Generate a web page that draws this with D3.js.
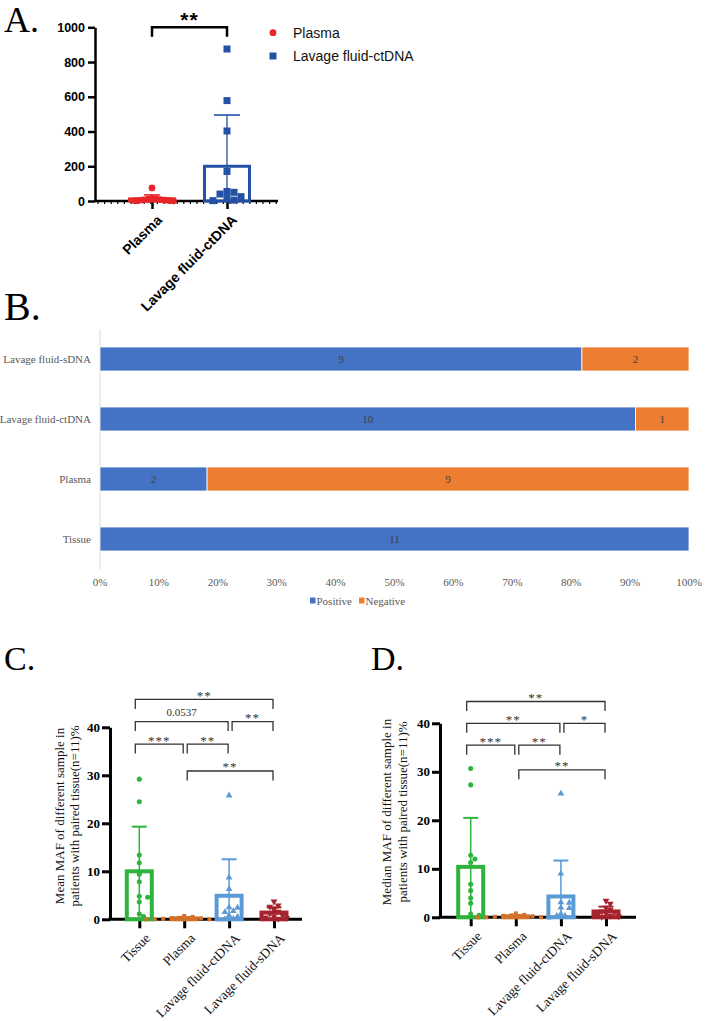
<!DOCTYPE html>
<html><head><meta charset="utf-8">
<script src="https://cdn.jsdelivr.net/npm/d3@7"></script>
<style>body{margin:0;background:#fff} svg{display:block}</style>
</head><body><svg id="fig" width="707" height="1021"></svg>
<script>
// ---------------- DATA ----------------
// Panel A
const catsA = ["Plasma", "Lavage fluid-ctDNA"];
const plasmaA = [75, 15, 12, 10, 8, 6, 5, 4, 3, 2, 1];
const lavageA = [875, 578, 403, 170, 55, 50, 40, 25, 15, 5, 2];
const meanA = [12, 200];
const sdA = [23, 295];
const ticksA = [0, 200, 400, 600, 800, 1000];
const sigA = "**";

// Panel B
const catsB = ["Lavage fluid-sDNA", "Lavage fluid-ctDNA", "Plasma", "Tissue"];
const positiveB = [9, 10, 2, 11];
const negativeB = [2, 1, 9, 0];
const ticksB = [0, 0.1, 0.2, 0.3, 0.4, 0.5, 0.6, 0.7, 0.8, 0.9, 1.0];
const seriesB = ["Positive", "Negative"];

// Panels C / D
const catsCD = ["Tissue", "Plasma", "Lavage fluid-ctDNA", "Lavage fluid-sDNA"];
const ticksCD = [0, 10, 20, 30, 40];
const tissueC = [29.2, 24.5, 13.4, 11.8, 9.4, 7.8, 4.8, 4.6, 3.6, 1.1, 0.6];
const plasmaC = [0.7, 0.5, 0.3, 0.2, 0.2, 0.1, 0.1, 0.0, 0.0, 0.0, 0.0];
const ctdnaC = [25.8, 8.7, 6.3, 2.5, 2.4, 1.7, 1.5, 0.8, 0.5, 0.1, 0.0];
const sdnaC = [3.7, 2.9, 2.6, 2.0, 1.6, 1.2, 0.9, 0.6, 0.4, 0.3, 0.1];
const meanC = [10.0, 0.2, 4.9, 1.4];
const sdC = [9.3, 0.25, 7.6, 1.1];
const bracketsC = [[0, 3, 45.8, "**"], [0, 2, 41.2, "0.0537"], [2, 3, 41.2, "**"], [0, 1, 36.5, "***"], [1, 2, 36.5, "**"], [1, 3, 30.9, "**"]];
const ylabelC = ["Mean MAF of different sample in", "patients with paired tissue(n=11)%"];

const tissueD = [30.7, 27.3, 12.8, 12.0, 11.3, 6.8, 5.5, 4.0, 2.9, 0.7, 0.4];
const plasmaD = [0.8, 0.5, 0.4, 0.3, 0.2, 0.1, 0.1, 0.0, 0.0, 0.0, 0.0];
const ctdnaD = [25.5, 9.0, 3.1, 3.0, 2.0, 1.9, 0.7, 0.3, 0.3, 0.2, 0.0];
const sdnaD = [3.4, 2.8, 2.0, 1.5, 1.2, 1.0, 0.8, 0.5, 0.3, 0.2, 0.1];
const meanD = [10.4, 0.2, 4.3, 1.2];
const sdD = [10.1, 0.25, 7.4, 1.0];
const bracketsD = [[0, 3, 44.5, "**"], [0, 2, 40.0, "**"], [2, 3, 40.0, "*"], [0, 1, 35.5, "***"], [1, 2, 35.5, "**"], [1, 3, 30.4, "**"]];
const ylabelD = ["Median MAF of different sample in", "patients with paired tissue(n=11)%"];

// ---------------- DRAWING ----------------
const svg = d3.select("#fig");
const SANS = "'Liberation Sans', Arial, sans-serif";
const SERIF = "'Liberation Serif', 'Times New Roman', serif";

function swarm(vals, yS, dx, minDist) {
  const order = vals.map((v, i) => i).sort((a, b) => vals[b] - vals[a]);
  const placed = []; const off = vals.map(() => 0);
  for (const i of order) {
    const py = yS(vals[i]);
    for (let k = 0; k < 60; k++) {
      const o = k === 0 ? 0 : (k % 2 ? 1 : -1) * Math.ceil(k / 2) * dx;
      if (placed.every(p => Math.hypot(p[0] - o, p[1] - py) >= minDist)) { off[i] = o; placed.push([o, py]); break; }
    }
  }
  return off;
}

function panelLabel(t, x, y, fs) {
  svg.append("text").attr("x", x).attr("y", y)
    .attr("font-family", SERIF).attr("font-size", fs).attr("fill", "#000").text(t);
}
panelLabel("A.", 4, 32, 36);
panelLabel("B.", 4, 320, 40);
panelLabel("C.", 4, 670, 34);
panelLabel("D.", 371, 670, 34);

// ---------- Panel A ----------
(function () {
  const g = svg.append("g");
  const red = "#e8262a", blue = "#2351a6";
  const y = d3.scaleLinear().domain([0, 1000]).range([201, 27.3]);
  const x = d3.scalePoint().domain(catsA).range([152, 227]);
  const axL = g.append("g").attr("transform", "translate(95,0)")
    .call(d3.axisLeft(y).tickValues(ticksA).tickFormat(d3.format("d")).tickSize(7).tickSizeOuter(0).tickPadding(3));
  axL.select(".domain").attr("stroke", "#000").attr("stroke-width", 2.5);
  axL.selectAll(".tick line").attr("stroke", "#000").attr("stroke-width", 2.5);
  axL.selectAll("text").attr("font-family", SANS).attr("font-weight", "bold").attr("font-size", 12.5).attr("fill", "#000");
  g.append("line").attr("x1", 95).attr("x2", 278).attr("y1", y(0)).attr("y2", y(0)).attr("stroke", "#000").attr("stroke-width", 2.5);
  g.selectAll("line.minor").data(d3.range(98, 278, 6.6)).join("line").attr("class", "minor")
    .attr("x1", d => d).attr("x2", d => d).attr("y1", y(0)).attr("y2", y(0) + 3).attr("stroke", "#000").attr("stroke-width", 1.2);
  const axB = g.append("g").attr("transform", `translate(0,${y(0)})`)
    .call(d3.axisBottom(x).tickSize(8).tickSizeOuter(0).tickFormat(""));
  axB.select(".domain").remove();
  axB.selectAll(".tick line").attr("stroke", "#000").attr("stroke-width", 2.5);
  g.selectAll("text.xl").data(catsA).join("text").attr("class", "xl")
    .attr("transform", d => `translate(${x(d) + 4},${y(0) + 13}) rotate(-45)`)
    .attr("text-anchor", "end").attr("dy", "0.7em")
    .attr("font-family", SANS).attr("font-weight", "bold").attr("font-size", 14).text(d => d);
  const cols = [red, blue];
  catsA.forEach((c, i) => {
    const cx = x(c), m = meanA[i], s = sdA[i];
    g.append("rect").attr("x", cx - 22.5).attr("width", 45).attr("y", y(m)).attr("height", y(0) - y(m))
      .attr("fill", "none").attr("stroke", cols[i]).attr("stroke-width", 3);
    g.append("line").attr("x1", cx).attr("x2", cx).attr("y1", y(Math.max(0, m - s))).attr("y2", y(m + s))
      .attr("stroke", cols[i]).attr("stroke-width", 1.3);
    const hw = i === 0 ? 8 : 13;
    g.append("line").attr("x1", cx - hw).attr("x2", cx + hw).attr("y1", y(m + s)).attr("y2", y(m + s))
      .attr("stroke", cols[i]).attr("stroke-width", 1.6);
  });
  const offP = swarm(plasmaA, y, 4.3, 4.2);
  g.selectAll("circle.pa").data(plasmaA).join("circle").attr("class", "pa")
    .attr("cx", (d, i) => x(catsA[0]) + offP[i]).attr("cy", d => y(d)).attr("r", 3.4).attr("fill", red);
  const offL = swarm(lavageA, y, 7, 6.8);
  g.selectAll("rect.la").data(lavageA).join("rect").attr("class", "la")
    .attr("x", (d, i) => x(catsA[1]) + offL[i] - 3.5).attr("y", d => y(d) - 3.5).attr("width", 7).attr("height", 7).attr("fill", blue);
  const by = 27.3;
  g.append("path").attr("d", `M${x(catsA[0])},${by + 9.5}V${by}H${x(catsA[1])}V${by + 9.5}`)
    .attr("fill", "none").attr("stroke", "#000").attr("stroke-width", 2.5);
  g.append("text").attr("x", (x(catsA[0]) + x(catsA[1])) / 2).attr("y", by - 0.5).attr("text-anchor", "middle")
    .attr("font-family", SANS).attr("font-weight", "bold").attr("font-size", 21).attr("letter-spacing", 1).text(sigA);
  const lg = g.append("g").attr("transform", "translate(273,0)");
  lg.append("circle").attr("cx", 0).attr("cy", 32.7).attr("r", 3.4).attr("fill", red);
  lg.append("rect").attr("x", -3.5).attr("y", 52.5).attr("width", 7).attr("height", 7).attr("fill", blue);
  lg.selectAll("text").data(catsA).join("text").attr("x", 20).attr("y", (d, i) => 32.7 + i * 23.3).attr("dy", "0.36em")
    .attr("font-family", SANS).attr("font-size", 14).attr("fill", "#111").text(d => d);
})();

// ---------- Panel B ----------
(function () {
  const g = svg.append("g");
  const cols = ["#4472c4", "#ed7d31"];
  const x = d3.scaleLinear().domain([0, 1]).range([100, 689]);
  const y = d3.scaleBand().domain(catsB).range([329, 569]).paddingInner(0.6).paddingOuter(0.3);
  function ctext(px, py, str, fill, anchor) {
    return g.append("text").attr("x", px).attr("y", py).attr("text-anchor", anchor).attr("dy", "0.35em")
      .attr("font-family", SERIF).attr("font-size", 11).attr("fill", fill).text(str);
  }
  g.append("line").attr("x1", x(0)).attr("x2", x(0)).attr("y1", 329).attr("y2", 569).attr("stroke", "#d9d9d9").attr("stroke-width", 1);
  catsB.forEach((c, i) => {
    const tot = positiveB[i] + negativeB[i];
    const segs = [[0, positiveB[i] / tot, positiveB[i]], [positiveB[i] / tot, 1, negativeB[i]]];
    segs.forEach((s, j) => {
      if (s[2] === 0) return;
      g.append("rect").attr("x", x(s[0])).attr("width", x(s[1]) - x(s[0])).attr("y", y(c)).attr("height", y.bandwidth())
        .attr("fill", cols[j]).attr("stroke", "#fff").attr("stroke-width", 0.8);
      ctext((x(s[0]) + x(s[1])) / 2, y(c) + y.bandwidth() / 2, s[2], "#404040", "middle");
    });
    ctext(91, y(c) + y.bandwidth() / 2, c, "#595959", "end");
  });
  ticksB.forEach(t => ctext(x(t), 582, d3.format(".0%")(t), "#595959", "middle"));
  const lx = [310, 359];
  seriesB.forEach((s, j) => {
    g.append("rect").attr("x", lx[j]).attr("y", 597.5).attr("width", 5.5).attr("height", 6).attr("fill", cols[j]);
    ctext(lx[j] + 6.5, 601, s, "#595959", "start");
  });
})();

// ---------- Panels C & D ----------
function drawMAF(cfg) {
  const g = svg.append("g");
  const cols = ["#2eb43c", "#d3702a", "#5b9bd5", "#a4232c"];
  const shapes = [d3.symbolCircle, d3.symbolSquare, d3.symbolTriangle, d3.symbolTriangle];
  const y = d3.scaleLinear().domain([0, 40]).range([cfg.y0, cfg.y40]);
  const x = d3.scalePoint().domain(catsCD).range([cfg.xFirst, cfg.xLast]);
  const axL = g.append("g").attr("transform", `translate(${cfg.axisX},0)`)
    .call(d3.axisLeft(y).tickValues(ticksCD).tickSize(8).tickSizeOuter(0).tickPadding(2));
  axL.select(".domain").attr("stroke", "#000").attr("stroke-width", 3);
  axL.selectAll(".tick line").attr("stroke", "#000").attr("stroke-width", 3);
  axL.selectAll("text").attr("font-family", SERIF).attr("font-weight", "bold").attr("font-size", 13).attr("fill", "#000");
  g.append("line").attr("x1", cfg.axisX - 1.5).attr("x2", cfg.xEnd).attr("y1", y(0)).attr("y2", y(0)).attr("stroke", "#000").attr("stroke-width", 3);
  const axB = g.append("g").attr("transform", `translate(0,${y(0)})`)
    .call(d3.axisBottom(x).tickSize(9).tickSizeOuter(0).tickFormat(""));
  axB.select(".domain").remove();
  axB.selectAll(".tick line").attr("stroke", "#000").attr("stroke-width", 3);
  g.selectAll("text.xl").data(catsCD).join("text").attr("class", "xl")
    .attr("transform", d => `translate(${x(d) + 5},${y(0) + 13}) rotate(-45)`)
    .attr("text-anchor", "end").attr("dy", "0.7em")
    .attr("font-family", SERIF).attr("font-size", 13.5).attr("fill", "#111").text(d => d);
  const ylg = g.append("g").attr("transform", `translate(${cfg.labX},${cfg.labY}) rotate(-90)`);
  cfg.ylabel.forEach((t, k) => ylg.append("text").attr("x", 0).attr("y", k * cfg.lineH).attr("text-anchor", "middle")
    .attr("font-family", SERIF).attr("font-size", 13).attr("fill", "#111").text(t));
  catsCD.forEach((c, i) => {
    const cx = x(c), m = cfg.mean[i], s = cfg.sd[i];
    g.append("rect").attr("x", cx - 12.5).attr("width", 25).attr("y", y(m)).attr("height", y(0) - y(m))
      .attr("fill", "none").attr("stroke", cols[i]).attr("stroke-width", 4);
    g.append("line").attr("x1", cx).attr("x2", cx).attr("y1", y(0)).attr("y2", y(m + s))
      .attr("stroke", cols[i]).attr("stroke-width", 1.5);
    g.append("line").attr("x1", cx - 7.5).attr("x2", cx + 7.5).attr("y1", y(m + s)).attr("y2", y(m + s))
      .attr("stroke", cols[i]).attr("stroke-width", 2);
    const vals = cfg.points[i];
    const off = swarm(vals, y, 4.2, 4.6);
    g.selectAll(`path.pt${i}`).data(vals).join("path").attr("class", `pt${i}`)
      .attr("d", d3.symbol().type(shapes[i]).size(i === 1 ? 16 : 20))
      .attr("transform", (d, k) => `translate(${cx + off[k]},${y(d)})${i === 3 ? " rotate(180)" : ""}`)
      .attr("fill", cols[i]);
  });
  cfg.brackets.forEach(([a, b, v, lab]) => {
    const x1 = x(catsCD[a]) + (a === 0 ? -4 : 3), x2 = x(catsCD[b]) - 1, by = y(v);
    g.append("path").attr("d", `M${x1},${by + 9.5}V${by}H${x2}V${by + 9.5}`)
      .attr("fill", "none").attr("stroke", "#333").attr("stroke-width", 1.3);
    const isNum = /\d/.test(lab);
    g.append("text").attr("x", (x1 + x2) / 2).attr("y", isNum ? by - 5.5 : by + 0.5).attr("text-anchor", "middle")
      .attr("font-family", SERIF).attr("font-size", isNum ? 11 : 13).attr("fill", "#333")
      .attr("letter-spacing", isNum ? 0 : 1).text(lab);
  });
}
drawMAF({ axisX: 110, y0: 919.3, y40: 727.3, xFirst: 139.3, xLast: 274, xEnd: 302, labX: 64, labY: 816, lineH: 15,
  mean: meanC, sd: sdC, points: [tissueC, plasmaC, ctdnaC, sdnaC], brackets: bracketsC, ylabel: ylabelC });
drawMAF({ axisX: 440, y0: 917.3, y40: 723.3, xFirst: 470.7, xLast: 606, xEnd: 636, labX: 391, labY: 812, lineH: 16,
  mean: meanD, sd: sdD, points: [tissueD, plasmaD, ctdnaD, sdnaD], brackets: bracketsD, ylabel: ylabelD });
</script></body></html>
